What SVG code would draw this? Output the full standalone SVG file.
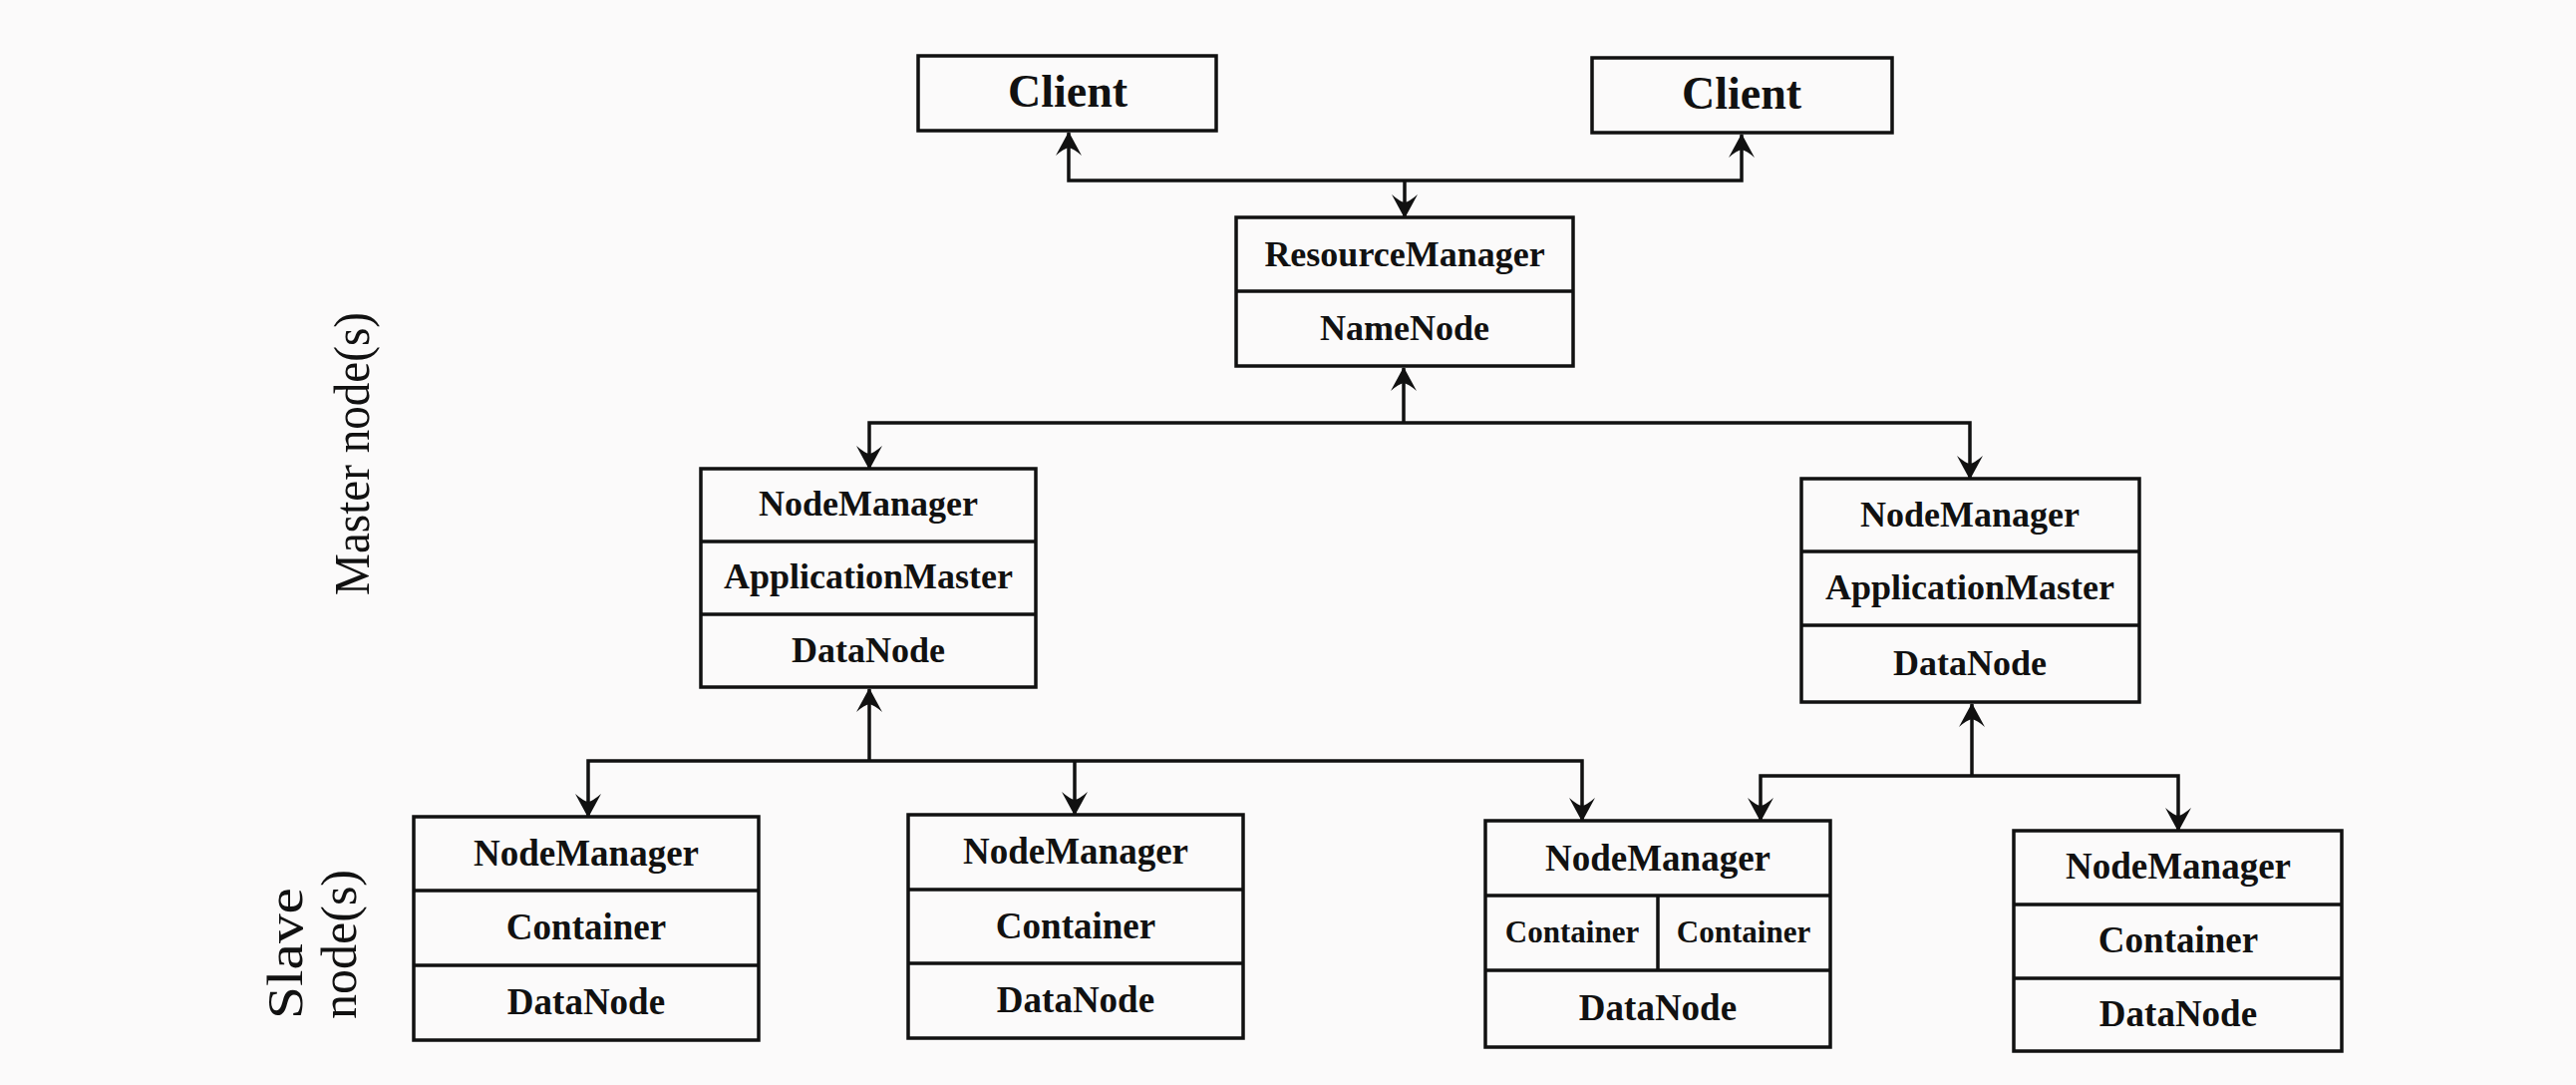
<svg xmlns="http://www.w3.org/2000/svg" width="2584" height="1088" viewBox="0 0 2584 1088">
<style>
.bg{fill:#fbfafa}
.box{fill:none;stroke:#111;stroke-width:3.5}
.div{stroke:#111;stroke-width:3.5}
.t{font-family:"Liberation Serif","Times New Roman",serif;font-weight:bold;fill:#111;text-anchor:middle}
.t46{font-size:46px}
.t36{font-size:36px}
.t37{font-size:37px}
.t31{font-size:31px}
.lbl{font-family:"Liberation Serif","Times New Roman",serif;font-size:50px;fill:#111}
.con{fill:none;stroke:#111;stroke-width:3.5;marker-end:url(#arr)}
</style>
<defs>
<marker id="arr" markerUnits="userSpaceOnUse" viewBox="-26 -15 30 30" markerWidth="30" markerHeight="30" refX="0" refY="0" orient="auto" overflow="visible">
<path d="M1,0 L-23,-13 Q-16,-5 -15,0 Q-16,5 -23,13 Z" fill="#111"/>
</marker>
</defs>
<rect class="bg" x="0" y="0" width="2584" height="1088"/>

<g id="labels">
<text class="lbl" transform="translate(370,455) rotate(-90)" text-anchor="middle" textLength="284" lengthAdjust="spacingAndGlyphs">Master node(s)</text>
<text class="lbl" transform="translate(303,1022) rotate(-90)" text-anchor="start" textLength="132" lengthAdjust="spacingAndGlyphs">Slave</text>
<text class="lbl" transform="translate(357,1022) rotate(-90)" text-anchor="start" textLength="150" lengthAdjust="spacingAndGlyphs">node(s)</text>
</g>

<g id="connectors">
<path class="con" d="M1409,181 H1072 V133"/>
<path class="con" d="M1409,181 H1747 V135"/>
<path class="con" d="M1409,181 V218"/>
<path class="con" d="M1408,424 V369"/>
<path class="con" d="M1408,424 H872 V470"/>
<path class="con" d="M1408,424 H1976 V480"/>
<path class="con" d="M872,763 V691"/>
<path class="con" d="M872,763 H590 V819"/>
<path class="con" d="M1078,763 V817"/>
<path class="con" d="M872,763 H1587 V823"/>
<path class="con" d="M1978,778 V706"/>
<path class="con" d="M1978,778 H1766 V823"/>
<path class="con" d="M1978,778 H2185 V833"/>
</g>

<g id="client1">
<rect class="box" x="921" y="56" width="299" height="75"/>
<text class="t t46" x="1071" y="107">Client</text>
</g>
<g id="client2">
<rect class="box" x="1597" y="58" width="301" height="75"/>
<text class="t t46" x="1747" y="109">Client</text>
</g>

<g id="resourcemanager">
<rect class="box" x="1240" y="218" width="338" height="149"/>
<line class="div" x1="1240" y1="292" x2="1578" y2="292"/>
<text class="t t36" x="1409" y="267">ResourceManager</text>
<text class="t t36" x="1409" y="341">NameNode</text>
</g>

<g id="master1">
<rect class="box" x="703" y="470" width="336" height="219"/>
<line class="div" x1="703" y1="543" x2="1039" y2="543"/>
<line class="div" x1="703" y1="616" x2="1039" y2="616"/>
<text class="t t36" x="871" y="517">NodeManager</text>
<text class="t t36" x="871" y="590">ApplicationMaster</text>
<text class="t t36" x="871" y="664">DataNode</text>
</g>

<g id="master2">
<rect class="box" x="1807" y="480" width="339" height="224"/>
<line class="div" x1="1807" y1="553" x2="2146" y2="553"/>
<line class="div" x1="1807" y1="627" x2="2146" y2="627"/>
<text class="t t36" x="1976" y="528">NodeManager</text>
<text class="t t36" x="1976" y="601">ApplicationMaster</text>
<text class="t t36" x="1976" y="677">DataNode</text>
</g>

<g id="slave1">
<rect class="box" x="415" y="819" width="346" height="224"/>
<line class="div" x1="415" y1="893" x2="761" y2="893"/>
<line class="div" x1="415" y1="968" x2="761" y2="968"/>
<text class="t t37" x="588" y="868">NodeManager</text>
<text class="t t37" x="588" y="942">Container</text>
<text class="t t37" x="588" y="1017">DataNode</text>
</g>

<g id="slave2">
<rect class="box" x="911" y="817" width="336" height="224"/>
<line class="div" x1="911" y1="892" x2="1247" y2="892"/>
<line class="div" x1="911" y1="966" x2="1247" y2="966"/>
<text class="t t37" x="1079" y="866">NodeManager</text>
<text class="t t37" x="1079" y="941">Container</text>
<text class="t t37" x="1079" y="1015">DataNode</text>
</g>

<g id="slave3">
<rect class="box" x="1490" y="823" width="346" height="227"/>
<line class="div" x1="1490" y1="898" x2="1836" y2="898"/>
<line class="div" x1="1490" y1="973" x2="1836" y2="973"/>
<line class="div" x1="1663" y1="898" x2="1663" y2="973"/>
<text class="t t37" x="1663" y="873">NodeManager</text>
<text class="t t31" x="1577" y="945">Container</text>
<text class="t t31" x="1749" y="945">Container</text>
<text class="t t37" x="1663" y="1023">DataNode</text>
</g>

<g id="slave4">
<rect class="box" x="2020" y="833" width="329" height="221"/>
<line class="div" x1="2020" y1="907" x2="2349" y2="907"/>
<line class="div" x1="2020" y1="981" x2="2349" y2="981"/>
<text class="t t37" x="2185" y="881">NodeManager</text>
<text class="t t37" x="2185" y="955">Container</text>
<text class="t t37" x="2185" y="1029">DataNode</text>
</g>
</svg>
